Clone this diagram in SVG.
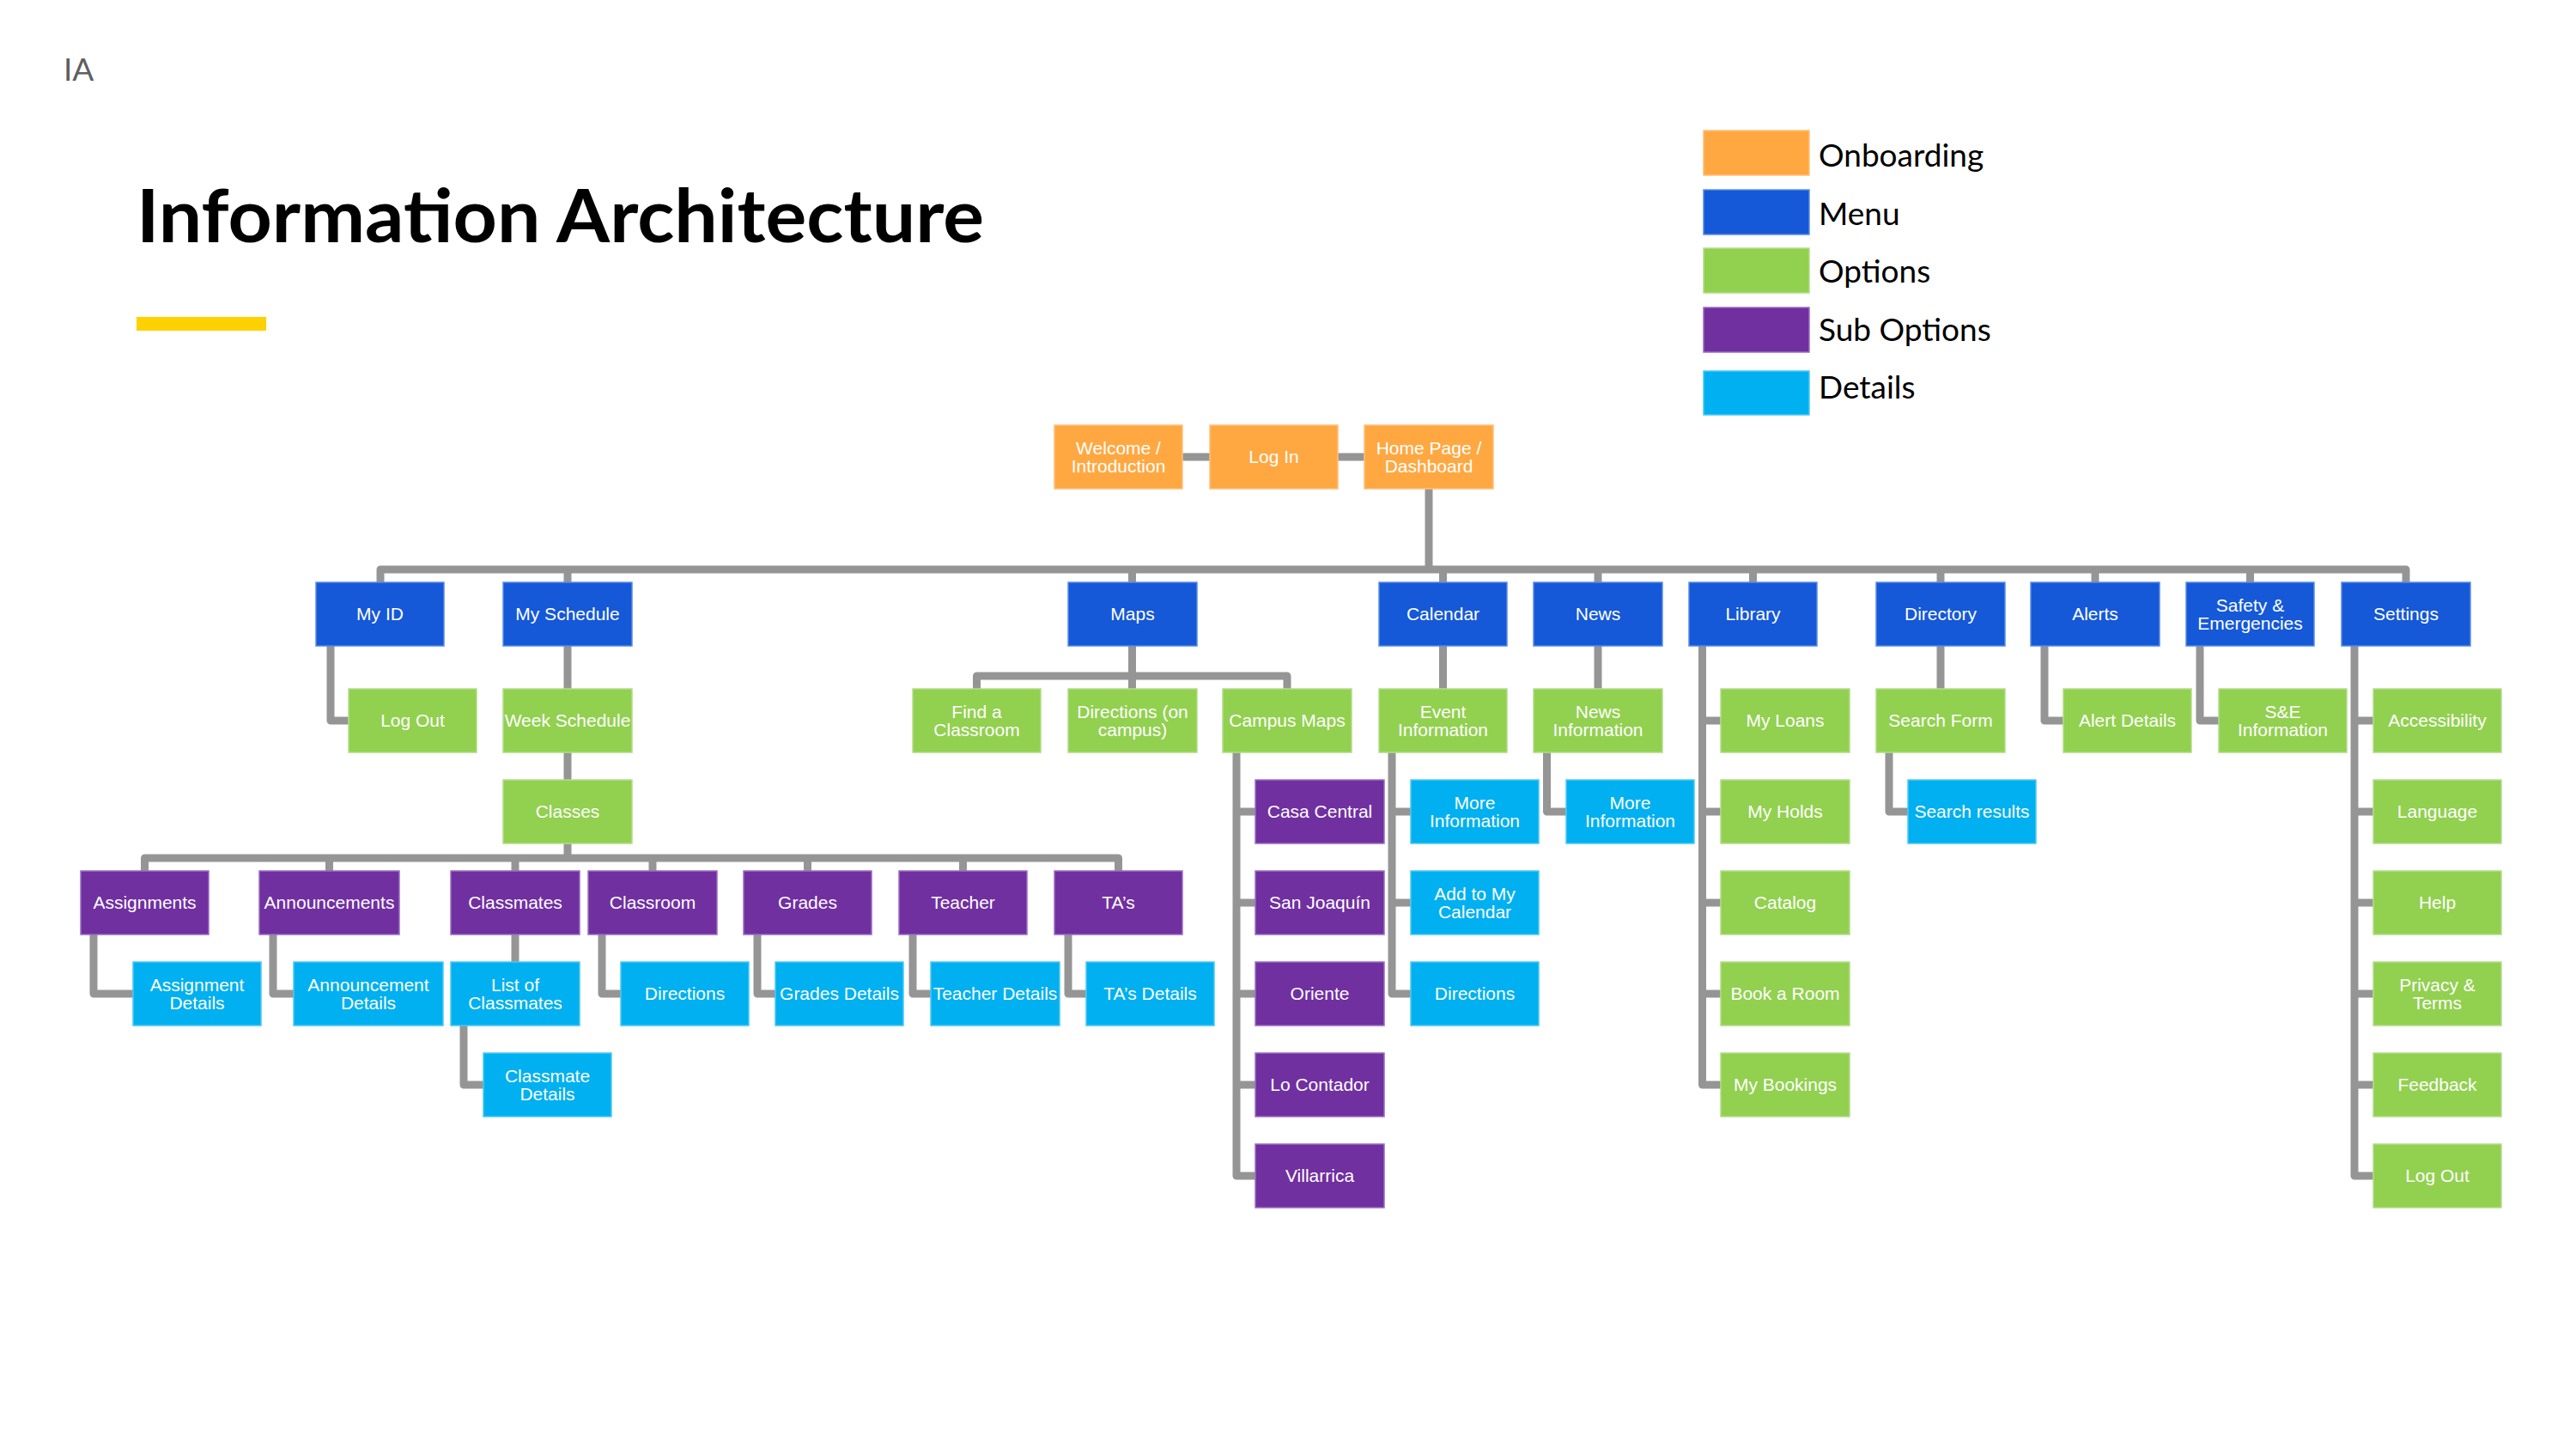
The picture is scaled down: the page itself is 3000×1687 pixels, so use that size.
<svg xmlns="http://www.w3.org/2000/svg" width="3000" height="1687" viewBox="0 0 3000 1687">
  <style>
    .lk{fill:none;stroke:#959595;stroke-width:9;stroke-linejoin:round}
    .ob{fill:#FFA842;stroke:#FFC07A;stroke-width:1.5}
    .mn{fill:#1558D8;stroke:#5A8AE6;stroke-width:1.5}
    .op{fill:#92D050;stroke:#B2DD88;stroke-width:1.5}
    .so{fill:#7030A0;stroke:#9B6CC2;stroke-width:1.5}
    .dt{fill:#00B0F0;stroke:#4CC8F5;stroke-width:1.5}
    .lb{font-family:"Liberation Sans",Arial,sans-serif;font-size:21px;fill:#ffffff;text-anchor:middle}
    .lg{font-family:Lato,"Open Sans",sans-serif;font-size:37px;fill:#000000}
  </style>
  <rect width="3000" height="1687" fill="#ffffff"/>

  <!-- header -->
  <text x="74" y="94" font-family="Lato,'Open Sans',sans-serif" font-size="37" fill="#5f5f5f">IA</text>
  <text x="159" y="282" font-family="Lato,'Open Sans',sans-serif" font-weight="bold" font-size="86" fill="#000000" textLength="987" lengthAdjust="spacingAndGlyphs">Information Architecture</text>
  <rect x="159" y="369" width="151" height="16" fill="#FFD100"/>

  <!-- legend -->
  <g id="legend">
    <rect class="ob" x="1984" y="152" width="123" height="52"/>
    <text class="lg" x="2118" y="194">Onboarding</text>
    <rect class="mn" x="1984" y="221" width="123" height="52"/>
    <text class="lg" x="2118" y="262">Menu</text>
    <rect class="op" x="1984" y="289" width="123" height="52"/>
    <text class="lg" x="2118" y="329">Options</text>
    <rect class="so" x="1984" y="358" width="123" height="52"/>
    <text class="lg" x="2118" y="397">Sub Options</text>
    <rect class="dt" x="1984" y="432" width="123" height="51"/>
    <text class="lg" x="2118" y="464">Details</text>
  </g>

  <!-- connectors -->
  <g id="connectors">
    <path class="lk" d="M1376,532 H1410 M1557,532 H1590"/>
    <path class="lk" d="M1664,569 V663"/>
    <path class="lk" d="M443,680 V663 H2802 V680"/>
    <path class="lk" d="M661,663 V680 M1318.5,663 V680 M1680.5,663 V680 M1861,663 V680 M2041.5,663 V680 M2260,663 V680 M2440,663 V680 M2620.5,663 V680"/>
    <!-- My ID / My Schedule -->
    <path class="lk" d="M385,752 V839 H407"/>
    <path class="lk" d="M661,752 V803 M661,876 V909"/>
    <!-- Classes -->
    <path class="lk" d="M661,982 V999"/>
    <path class="lk" d="M168.5,1015 V999 H1302.5 V1015"/>
    <path class="lk" d="M383.5,999 V1015 M600,999 V1015 M760,999 V1015 M940.5,999 V1015 M1121.5,999 V1015"/>
    <path class="lk" d="M109,1087 V1157 H156"/>
    <path class="lk" d="M318,1087 V1157 H343"/>
    <path class="lk" d="M600,1087 V1121"/>
    <path class="lk" d="M540,1193 V1263 H564"/>
    <path class="lk" d="M701,1087 V1157 H724"/>
    <path class="lk" d="M882,1087 V1157 H904"/>
    <path class="lk" d="M1063,1087 V1157 H1085"/>
    <path class="lk" d="M1244,1087 V1157 H1266"/>
    <!-- Maps -->
    <path class="lk" d="M1318.5,752 V803"/>
    <path class="lk" d="M1137.5,803 V787 H1499 V803"/>
    <path class="lk" d="M1440,876 V1369 H1463 M1440,945 H1463 M1440,1051 H1463 M1440,1157 H1463 M1440,1263 H1463"/>
    <!-- Calendar -->
    <path class="lk" d="M1680.5,752 V803"/>
    <path class="lk" d="M1621,876 V1157 H1644 M1621,945 H1644 M1621,1051 H1644"/>
    <!-- News -->
    <path class="lk" d="M1861,752 V803"/>
    <path class="lk" d="M1801.5,876 V945 H1825"/>
    <!-- Library -->
    <path class="lk" d="M1982.5,752 V1263 H2005 M1982.5,839 H2005 M1982.5,945 H2005 M1982.5,1051 H2005 M1982.5,1157 H2005"/>
    <!-- Directory -->
    <path class="lk" d="M2260,752 V803"/>
    <path class="lk" d="M2200,876 V945 H2223"/>
    <!-- Alerts / Safety -->
    <path class="lk" d="M2381,752 V839 H2404"/>
    <path class="lk" d="M2562,752 V839 H2585"/>
    <!-- Settings -->
    <path class="lk" d="M2742,752 V1369 H2765 M2742,839 H2765 M2742,945 H2765 M2742,1051 H2765 M2742,1157 H2765 M2742,1263 H2765"/>
  </g>

  <!-- onboarding -->
  <g id="welcome"><rect class="ob" x="1228" y="495" width="149" height="74"/><text class="lb" x="1302.5" y="529">Welcome /</text><text class="lb" x="1302.5" y="550">Introduction</text></g>
  <g id="log-in"><rect class="ob" x="1409" y="495" width="149" height="74"/><text class="lb" x="1483.5" y="539">Log In</text></g>
  <g id="home"><rect class="ob" x="1589" y="495" width="150" height="74"/><text class="lb" x="1664" y="529">Home Page /</text><text class="lb" x="1664" y="550">Dashboard</text></g>

  <!-- menu -->
  <g id="my-id"><rect class="mn" x="368" y="678" width="149" height="74"/><text class="lb" x="442.5" y="722">My ID</text></g>
  <g id="my-schedule"><rect class="mn" x="586" y="678" width="150" height="74"/><text class="lb" x="661" y="722">My Schedule</text></g>
  <g id="maps"><rect class="mn" x="1244" y="678" width="150" height="74"/><text class="lb" x="1319" y="722">Maps</text></g>
  <g id="calendar"><rect class="mn" x="1606" y="678" width="149" height="74"/><text class="lb" x="1680.5" y="722">Calendar</text></g>
  <g id="news"><rect class="mn" x="1786" y="678" width="150" height="74"/><text class="lb" x="1861" y="722">News</text></g>
  <g id="library"><rect class="mn" x="1967" y="678" width="149" height="74"/><text class="lb" x="2041.5" y="722">Library</text></g>
  <g id="directory"><rect class="mn" x="2185" y="678" width="150" height="74"/><text class="lb" x="2260" y="722">Directory</text></g>
  <g id="alerts"><rect class="mn" x="2365" y="678" width="150" height="74"/><text class="lb" x="2440" y="722">Alerts</text></g>
  <g id="safety"><rect class="mn" x="2546" y="678" width="149" height="74"/><text class="lb" x="2620.5" y="712">Safety &amp;</text><text class="lb" x="2620.5" y="733">Emergencies</text></g>
  <g id="settings"><rect class="mn" x="2727" y="678" width="150" height="74"/><text class="lb" x="2802" y="722">Settings</text></g>

  <!-- row 1 -->
  <g id="id-log-out"><rect class="op" x="406" y="802" width="149" height="74"/><text class="lb" x="480.5" y="846">Log Out</text></g>
  <g id="week-schedule"><rect class="op" x="586" y="802" width="150" height="74"/><text class="lb" x="661" y="846">Week Schedule</text></g>
  <g id="find-classroom"><rect class="op" x="1063" y="802" width="149" height="74"/><text class="lb" x="1137.5" y="836">Find a</text><text class="lb" x="1137.5" y="857">Classroom</text></g>
  <g id="directions-campus"><rect class="op" x="1244" y="802" width="150" height="74"/><text class="lb" x="1319" y="836">Directions (on</text><text class="lb" x="1319" y="857">campus)</text></g>
  <g id="campus-maps"><rect class="op" x="1424" y="802" width="150" height="74"/><text class="lb" x="1499" y="846">Campus Maps</text></g>
  <g id="event-info"><rect class="op" x="1606" y="802" width="149" height="74"/><text class="lb" x="1680.5" y="836">Event</text><text class="lb" x="1680.5" y="857">Information</text></g>
  <g id="news-info"><rect class="op" x="1786" y="802" width="150" height="74"/><text class="lb" x="1861" y="836">News</text><text class="lb" x="1861" y="857">Information</text></g>
  <g id="my-loans"><rect class="op" x="2004" y="802" width="150" height="74"/><text class="lb" x="2079" y="846">My Loans</text></g>
  <g id="search-form"><rect class="op" x="2185" y="802" width="150" height="74"/><text class="lb" x="2260" y="846">Search Form</text></g>
  <g id="alert-details"><rect class="op" x="2403" y="802" width="149" height="74"/><text class="lb" x="2477.5" y="846">Alert Details</text></g>
  <g id="se-info"><rect class="op" x="2584" y="802" width="149" height="74"/><text class="lb" x="2658.5" y="836">S&amp;E</text><text class="lb" x="2658.5" y="857">Information</text></g>
  <g id="accessibility"><rect class="op" x="2764" y="802" width="149" height="74"/><text class="lb" x="2838.5" y="846">Accessibility</text></g>

  <!-- row 2 -->
  <g id="classes"><rect class="op" x="586" y="908" width="150" height="74"/><text class="lb" x="661" y="952">Classes</text></g>
  <g id="casa-central"><rect class="so" x="1462" y="908" width="150" height="74"/><text class="lb" x="1537" y="952">Casa Central</text></g>
  <g id="event-more-info"><rect class="dt" x="1643" y="908" width="149" height="74"/><text class="lb" x="1717.5" y="942">More</text><text class="lb" x="1717.5" y="963">Information</text></g>
  <g id="news-more-info"><rect class="dt" x="1824" y="908" width="149" height="74"/><text class="lb" x="1898.5" y="942">More</text><text class="lb" x="1898.5" y="963">Information</text></g>
  <g id="my-holds"><rect class="op" x="2004" y="908" width="150" height="74"/><text class="lb" x="2079" y="952">My Holds</text></g>
  <g id="search-results"><rect class="dt" x="2222" y="908" width="149" height="74"/><text class="lb" x="2296.5" y="952">Search results</text></g>
  <g id="language"><rect class="op" x="2764" y="908" width="149" height="74"/><text class="lb" x="2838.5" y="952">Language</text></g>

  <!-- row 3 -->
  <g id="assignments"><rect class="so" x="94" y="1014" width="149" height="74"/><text class="lb" x="168.5" y="1058">Assignments</text></g>
  <g id="announcements"><rect class="so" x="302" y="1014" width="163" height="74"/><text class="lb" x="383.5" y="1058">Announcements</text></g>
  <g id="classmates"><rect class="so" x="525" y="1014" width="150" height="74"/><text class="lb" x="600" y="1058">Classmates</text></g>
  <g id="classroom"><rect class="so" x="685" y="1014" width="150" height="74"/><text class="lb" x="760" y="1058">Classroom</text></g>
  <g id="grades"><rect class="so" x="866" y="1014" width="149" height="74"/><text class="lb" x="940.5" y="1058">Grades</text></g>
  <g id="teacher"><rect class="so" x="1047" y="1014" width="149" height="74"/><text class="lb" x="1121.5" y="1058">Teacher</text></g>
  <g id="tas"><rect class="so" x="1228" y="1014" width="149" height="74"/><text class="lb" x="1302.5" y="1058">TA’s</text></g>
  <g id="san-joaquin"><rect class="so" x="1462" y="1014" width="150" height="74"/><text class="lb" x="1537" y="1058">San Joaquín</text></g>
  <g id="add-calendar"><rect class="dt" x="1643" y="1014" width="149" height="74"/><text class="lb" x="1717.5" y="1048">Add to My</text><text class="lb" x="1717.5" y="1069">Calendar</text></g>
  <g id="catalog"><rect class="op" x="2004" y="1014" width="150" height="74"/><text class="lb" x="2079" y="1058">Catalog</text></g>
  <g id="help"><rect class="op" x="2764" y="1014" width="149" height="74"/><text class="lb" x="2838.5" y="1058">Help</text></g>

  <!-- row 4 -->
  <g id="assignment-details"><rect class="dt" x="155" y="1120" width="149" height="74"/><text class="lb" x="229.5" y="1154">Assignment</text><text class="lb" x="229.5" y="1175">Details</text></g>
  <g id="announcement-details"><rect class="dt" x="342" y="1120" width="174" height="74"/><text class="lb" x="429" y="1154">Announcement</text><text class="lb" x="429" y="1175">Details</text></g>
  <g id="list-classmates"><rect class="dt" x="525" y="1120" width="150" height="74"/><text class="lb" x="600" y="1154">List of</text><text class="lb" x="600" y="1175">Classmates</text></g>
  <g id="classroom-directions"><rect class="dt" x="723" y="1120" width="149" height="74"/><text class="lb" x="797.5" y="1164">Directions</text></g>
  <g id="grades-details"><rect class="dt" x="903" y="1120" width="149" height="74"/><text class="lb" x="977.5" y="1164">Grades Details</text></g>
  <g id="teacher-details"><rect class="dt" x="1084" y="1120" width="150" height="74"/><text class="lb" x="1159" y="1164">Teacher Details</text></g>
  <g id="tas-details"><rect class="dt" x="1265" y="1120" width="149" height="74"/><text class="lb" x="1339.5" y="1164">TA’s Details</text></g>
  <g id="oriente"><rect class="so" x="1462" y="1120" width="150" height="74"/><text class="lb" x="1537" y="1164">Oriente</text></g>
  <g id="event-directions"><rect class="dt" x="1643" y="1120" width="149" height="74"/><text class="lb" x="1717.5" y="1164">Directions</text></g>
  <g id="book-room"><rect class="op" x="2004" y="1120" width="150" height="74"/><text class="lb" x="2079" y="1164">Book a Room</text></g>
  <g id="privacy"><rect class="op" x="2764" y="1120" width="149" height="74"/><text class="lb" x="2838.5" y="1154">Privacy &amp;</text><text class="lb" x="2838.5" y="1175">Terms</text></g>

  <!-- row 5 -->
  <g id="classmate-details"><rect class="dt" x="563" y="1226" width="149" height="74"/><text class="lb" x="637.5" y="1260">Classmate</text><text class="lb" x="637.5" y="1281">Details</text></g>
  <g id="lo-contador"><rect class="so" x="1462" y="1226" width="150" height="74"/><text class="lb" x="1537" y="1270">Lo Contador</text></g>
  <g id="my-bookings"><rect class="op" x="2004" y="1226" width="150" height="74"/><text class="lb" x="2079" y="1270">My Bookings</text></g>
  <g id="feedback"><rect class="op" x="2764" y="1226" width="149" height="74"/><text class="lb" x="2838.5" y="1270">Feedback</text></g>

  <!-- row 6 -->
  <g id="villarrica"><rect class="so" x="1462" y="1332" width="150" height="74"/><text class="lb" x="1537" y="1376">Villarrica</text></g>
  <g id="settings-log-out"><rect class="op" x="2764" y="1332" width="149" height="74"/><text class="lb" x="2838.5" y="1376">Log Out</text></g>
</svg>
